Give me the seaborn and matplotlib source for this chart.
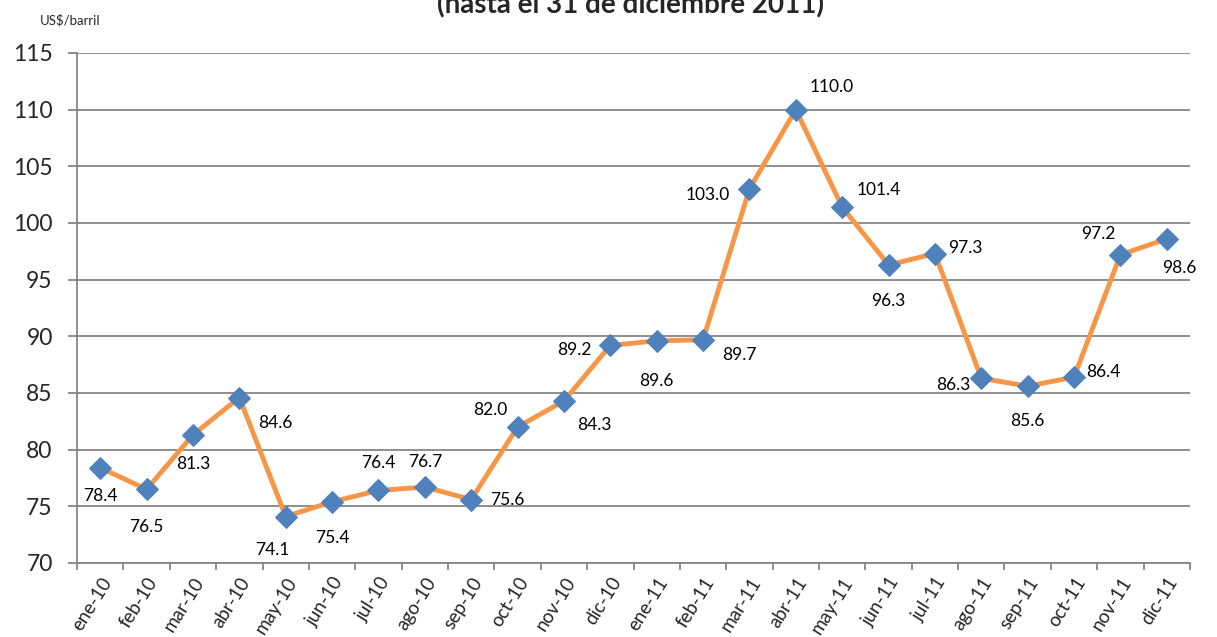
import pandas as pd
import matplotlib.pyplot as plt
import seaborn as sns

# Monthly prices, US$/barril
months = ['ene-10', 'feb-10', 'mar-10', 'abr-10', 'may-10', 'jun-10', 'jul-10', 'ago-10',
          'sep-10', 'oct-10', 'nov-10', 'dic-10', 'ene-11', 'feb-11', 'mar-11', 'abr-11',
          'may-11', 'jun-11', 'jul-11', 'ago-11', 'sep-11', 'oct-11', 'nov-11', 'dic-11']
prices = [78.4, 76.5, 81.3, 84.6, 74.1, 75.4, 76.4, 76.7, 75.6, 82.0, 84.3, 89.2,
          89.6, 89.7, 103.0, 110.0, 101.4, 96.3, 97.3, 86.3, 85.6, 86.4, 97.2, 98.6]
y_ticks = [70, 75, 80, 85, 90, 95, 100, 105, 110, 115]

# where each data label sits relative to its marker (points)
label_offsets = [(0, -20), (0, -27), (0, -21), (26, -18), (-10, -24), (0, -26),
                 (0, 20), (0, 18), (26, 0), (-20, 12), (22, -17), (-26, -3),
                 (0, -29), (26, -11), (-30, -4), (26, 16), (26, 12), (0, -26),
                 (22, 4), (-20, -5), (0, -25), (21, 4), (-16, 15), (9, -21)]

df = pd.DataFrame({'x': range(len(months)), 'precio': prices})

sns.set_style('white')
plt.rcParams['font.family'] = ['Lato', 'DejaVu Sans']

fig = plt.figure(figsize=(12.17, 6.37), dpi=100)
ax = fig.add_axes([0.0633, 0.1162, 0.9145, 0.8006])

ax.set_ylim(70, 115)
ax.set_xlim(-0.5, len(months) - 0.5)
ax.set_yticks(y_ticks)
ax.yaxis.grid(True, color='#868686', linewidth=1.3)
ax.set_axisbelow(True)

sns.lineplot(data=df, x='x', y='precio', ax=ax, color='#F79646', linewidth=3.5,
             marker='D', markersize=11.5, markerfacecolor='#4F81BD',
             markeredgecolor='#4F81BD', sort=False, zorder=3)

for i, v in enumerate(prices):
    dx, dy = label_offsets[i]
    ax.annotate(f'{v:.1f}', (i, v), xytext=(dx, dy), textcoords='offset points',
                ha='center', va='center', fontsize=12.5, color='black')

# category boundaries get the tick marks, labels sit between them
ax.set_xticks([i - 0.5 for i in range(len(months) + 1)])
ax.set_xticklabels([])
ax.set_xticks(range(len(months)), minor=True)
ax.set_xticklabels(months, minor=True, rotation=58, ha='right',
                   rotation_mode='anchor', fontsize=13.5)
ax.tick_params(axis='x', which='major', length=5, width=1.3, color='#868686',
               direction='out', bottom=True)
ax.tick_params(axis='x', which='minor', length=0, pad=8)
ax.tick_params(axis='y', length=6.5, width=1.3, color='#868686', direction='out',
               left=True, labelsize=16.5, pad=11)

for side in ['top', 'right']:
    ax.spines[side].set_visible(False)
for side in ['left', 'bottom']:
    ax.spines[side].set_color('#868686')
    ax.spines[side].set_linewidth(1.3)

ax.set_xlabel('')
ax.set_ylabel('')

fig.text(0.033, 0.968, 'US$/barril', fontsize=9.5, ha='left', va='center')
fig.text(0.518, 0.993, '(hasta el 31 de diciembre 2011)', fontsize=20,
         fontweight='bold', ha='center', va='center')

fig.savefig('out.png', dpi=100)
